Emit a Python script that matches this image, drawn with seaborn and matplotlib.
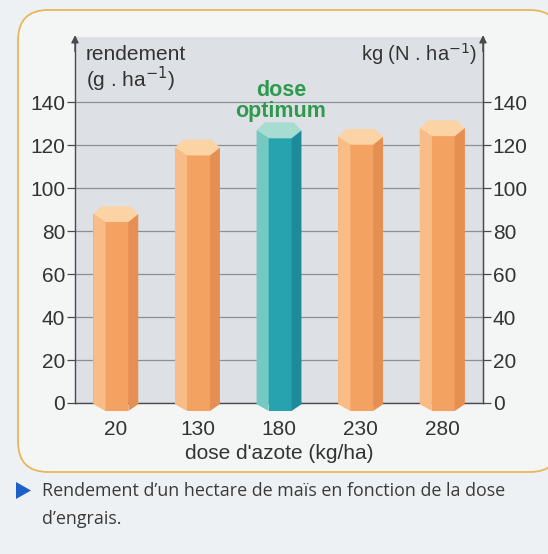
import numpy as np
import pandas as pd
import seaborn as sns
import matplotlib.pyplot as plt
from matplotlib.patches import Polygon, FancyBboxPatch

# values
doses = ["20", "130", "180", "230", "280"]
rendement = [88, 119, 127, 124, 128]
optimum = "180"
yticks = [0, 20, 40, 60, 80, 100, 120, 140]

ORANGE = {"front": "#f4a262", "left": "#f8bd86", "right": "#e58f52", "top": "#fcd3a4"}
TEAL = {"front": "#27a3af", "left": "#74c9c3", "right": "#1e8b9b", "top": "#a6dcd1"}
TXT = "#333333"
FS = 15

sns.set_style("white")
plt.rcParams["font.family"] = ["Liberation Sans", "DejaVu Sans"]

W, H = 548, 554
fig = plt.figure(figsize=(W / 100, H / 100), dpi=100)
fig.patch.set_facecolor("#eef1f3")


def fx(px):
    return px / W


def fy(py):
    return 1 - py / H


# rounded frame around the chart
frame = FancyBboxPatch((fx(18), fy(472)), fx(560) - fx(18), fy(10) - fy(472),
                       boxstyle="round,pad=0,rounding_size=0.055",
                       transform=fig.transFigure, facecolor="#f4f5f5",
                       edgecolor="#e8b75c", linewidth=1.3, zorder=-5)
fig.patches.append(frame)

ax = fig.add_axes([fx(75), fy(403), fx(483) - fx(75), fy(37) - fy(403)])
ax.set_facecolor("#dde1e6")

df = pd.DataFrame({"dose": doses, "rendement": rendement})
pal = {d: (TEAL["front"] if d == optimum else ORANGE["front"]) for d in doses}
sns.barplot(data=df, x="dose", y="rendement", hue="dose", palette=pal,
            order=doses, width=0.55, legend=False, ax=ax, zorder=3,
            linewidth=0, saturation=1)

ax.set_ylim(0, 170.5)
ax.set_xlim(-0.5, len(doses) - 0.5)

# hexagonal prism look, built from each seaborn bar
d = 3.7
for patch, dose in zip(list(ax.patches), doses):
    c = TEAL if dose == optimum else ORANGE
    x0 = patch.get_x()
    w = patch.get_width()
    v = patch.get_height()
    x1 = x0 + w
    xa, xb = x0 + 0.27 * w, x0 + 0.78 * w
    faces = [
        ([(xa, -d), (xa, v - d), (xb, v - d), (xb, -d)], c["front"]),
        ([(x0, -0.6), (x0, v), (xa, v - d), (xa, -d)], c["left"]),
        ([(xb, -d), (xb, v - d), (x1, v), (x1, -0.6)], c["right"]),
        ([(x0, v), (x0 + 0.18 * w, v + d), (x0 + 0.82 * w, v + d), (x1, v),
          (xb, v - d), (xa, v - d)], c["top"]),
    ]
    for pts, col in faces:
        ax.add_patch(Polygon(pts, closed=True, facecolor=col, edgecolor="none",
                             zorder=4, clip_on=False))

# axes styling
ax.spines["top"].set_visible(False)
for s in ["left", "right", "bottom"]:
    ax.spines[s].set_color("#4a4a4a")
    ax.spines[s].set_linewidth(1.0)
ax.set_yticks(yticks)
ax.yaxis.grid(True, color="#8c9096", linewidth=0.9, zorder=1)
ax.set_axisbelow(True)
ax.tick_params(axis="y", direction="out", length=6, width=0.9, color="#4a4a4a",
               labelsize=FS, labelcolor=TXT, pad=1)
ax.set_xticks(range(len(doses)))
ax.set_xticklabels(doses)
ax.set_xticks(np.arange(0.5, len(doses) - 0.5, 1), minor=True)
ax.tick_params(axis="x", which="major", length=0, labelsize=FS, labelcolor=TXT, pad=12)
ax.tick_params(axis="x", which="minor", direction="out", length=6, width=0.9,
               color="#4a4a4a")
ax.set_xlabel("dose d'azote (kg/ha)", fontsize=FS, color=TXT, labelpad=4)
ax.set_ylabel("")

ax2 = ax.twinx()
ax2.set_ylim(ax.get_ylim())
ax2.set_yticks(yticks)
for s in ["top", "left", "bottom"]:
    ax2.spines[s].set_visible(False)
ax2.spines["right"].set_color("#4a4a4a")
ax2.tick_params(axis="y", direction="out", length=6, width=0.9, color="#4a4a4a",
                labelsize=FS, labelcolor=TXT, pad=1)

# arrow heads on both vertical axes
for xa_ in (0, 1):
    ax.annotate("", xy=(xa_, 1.005), xytext=(xa_, 0.96), xycoords="axes fraction",
                arrowprops=dict(arrowstyle="-|>", color="#4a4a4a", lw=1.0,
                                mutation_scale=11, shrinkA=0, shrinkB=0))

fig.text(fx(86), fy(54), "rendement", fontsize=FS, color=TXT, va="center")
fig.text(fx(86), fy(79), "(g . ha$^{-1}$)", fontsize=FS, color=TXT, va="center")
fig.text(fx(477), fy(54), "kg (N . ha$^{-1}$)", fontsize=14.5, color=TXT,
         va="center", ha="right")
fig.text(fx(281), fy(91), "dose", fontsize=15.5, color="#2e9a4e", fontweight="bold",
         ha="center", va="center")
fig.text(fx(281), fy(111), "optimum", fontsize=15.5, color="#2e9a4e",
         fontweight="bold", ha="center", va="center")

# caption
tri = Polygon([(fx(16), fy(482)), (fx(16), fy(499)), (fx(31), fy(490.5))],
              closed=True, transform=fig.transFigure, facecolor="#1c5fc9",
              edgecolor="none")
fig.patches.append(tri)
fig.text(fx(42), fy(491), "Rendement d\u2019un hectare de maïs en fonction de la dose",
         fontsize=12.9, color="#3a3a3a", va="center",
         family=["Open Sans", "DejaVu Sans"])
fig.text(fx(42), fy(519), "d\u2019engrais.", fontsize=12.9, color="#3a3a3a",
         va="center", family=["Open Sans", "DejaVu Sans"])

fig.savefig("out.png", dpi=100, facecolor=fig.get_facecolor())
